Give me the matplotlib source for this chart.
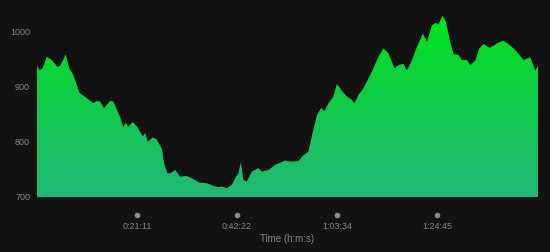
import numpy as np
import matplotlib
matplotlib.use("Agg")
import matplotlib.pyplot as plt
from matplotlib.colors import LinearSegmentedColormap
from matplotlib.transforms import blended_transform_factory

# time in seconds
times = [0, 29, 72, 123, 187, 258, 292, 365, 411, 461, 538, 632, 716, 759, 801, 852,
         928, 970, 1055, 1097, 1131, 1160, 1216, 1275, 1343, 1376, 1407, 1471, 1521,
         1585, 1614, 1656, 1699, 1754, 1818, 1903, 1966, 2063, 2157, 2241, 2304, 2348,
         2411, 2475, 2517, 2559, 2589, 2622, 2665, 2729, 2813, 2856, 2940, 3025, 3152,
         3216, 3321, 3385, 3448, 3499, 3555, 3610, 3652, 3703, 3766, 3809, 3873, 3936,
         3991, 4033, 4084, 4147, 4254, 4338, 4401, 4465, 4541, 4592, 4656, 4699, 4763,
         4826, 4902, 4953, 5017, 5059, 5101, 5151, 5195, 5249, 5291, 5355, 5398, 5462,
         5503, 5567, 5618, 5672, 5749, 5843, 5919, 5990, 6075, 6181, 6266, 6330, 6364]
values = [938, 930, 933, 954, 948, 936, 937, 958, 933, 921, 889, 879, 870, 874, 873, 861,
          874, 873, 845, 827, 835, 827, 836, 827, 810, 816, 800, 808, 804,
          788, 761, 743, 743, 749, 737, 738, 734, 726, 725, 720, 718, 719,
          716, 722, 734, 743, 763, 731, 728, 746, 752, 746, 749, 758, 766,
          764, 765, 776, 782, 815, 848, 861, 856, 870, 882, 905, 892, 882,
          877, 870, 885, 897, 927, 954, 969, 960, 933, 939, 941, 929, 948,
          972, 996, 981, 1011, 1015, 1013, 1028, 1017, 981, 959, 957, 948, 948,
          939, 947, 969, 977, 970, 978, 983, 977, 966, 948, 953, 929, 938]

y_ticks = [700, 800, 900, 1000]
x_ticks = [1271, 2542, 3814, 5085]
x_tick_labels = ["0:21:11", "0:42:22", "1:03:34", "1:24:45"]
x_label = "Time (h:m:s)"

BG = "#121212"
TXT = "#858585"
plt.rcParams['font.family'] = ['Liberation Sans', 'DejaVu Sans']

W, H = 550, 252
fig = plt.figure(figsize=(W / 100, H / 100), dpi=100, facecolor=BG)
ymin, ymax = 700, 1050
px_per_unit = (197 - 31.3) / 300.0
top_px = 197 - (ymax - ymin) * px_per_unit
ax = fig.add_axes([37 / W, (H - 197) / H, (538 - 37) / W, (197 - top_px) / H])
ax.set_facecolor(BG)

t = np.array(times, dtype=float)
v = np.array(values, dtype=float)
ax.set_xlim(t[0], t[-1])
ax.set_ylim(ymin, ymax)

# gradient fill
poly = ax.fill_between(t, ymin, v, color="none", lw=0)
cmap = LinearSegmentedColormap.from_list("g", ["#22b878", "#10c94a", "#00e51a"])
grad = np.linspace(0, 1, 256).reshape(-1, 1)
img = ax.imshow(grad, aspect="auto", cmap=cmap, origin="lower",
                extent=[t[0], t[-1], ymin, 1030], zorder=2)
path = poly.get_paths()[0]
img.set_clip_path(path, transform=ax.transData)

for s in ax.spines.values():
    s.set_visible(False)

ax.set_yticks(y_ticks)
ax.set_yticklabels([str(y) for y in y_ticks])
ax.set_xticks(x_ticks)
ax.set_xticklabels(x_tick_labels)
ax.tick_params(axis="y", length=0, pad=5, labelsize=6.5, labelcolor=TXT)
ax.tick_params(axis="x", length=0, pad=18, labelsize=6.5, labelcolor=TXT)
ax.set_xlabel(x_label, fontsize=7, color=TXT, labelpad=2.5)

trans = blended_transform_factory(ax.transData, ax.transAxes)
dot_y = -(215 - 197) / (197 - top_px)
ax.plot(x_ticks, [dot_y] * len(x_ticks), "o", color="#8c8c8c", ms=4,
        transform=trans, clip_on=False, mec="none")

fig.savefig("out.png", dpi=100, facecolor=BG)
